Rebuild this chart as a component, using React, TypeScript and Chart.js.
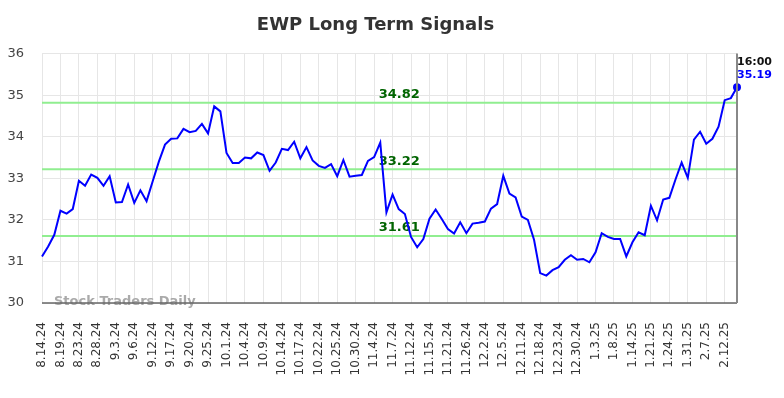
import { useEffect, useRef } from "react";
import { Chart, registerables } from "chart.js";

Chart.register(...registerables);

const chartTitle = "EWP Long Term Signals";

const dates = [
  "8.14.24", "8.15.24", "8.16.24",
  "8.19.24", "8.20.24", "8.21.24",
  "8.23.24", "8.26.24", "8.27.24",
  "8.28.24", "8.29.24", "8.30.24",
  "9.3.24", "9.4.24", "9.5.24",
  "9.6.24", "9.9.24", "9.10.24",
  "9.12.24", "9.13.24", "9.16.24",
  "9.17.24", "9.18.24", "9.19.24",
  "9.20.24", "9.23.24", "9.24.24",
  "9.25.24", "9.26.24", "9.27.24",
  "10.1.24", "10.2.24", "10.3.24",
  "10.4.24", "10.7.24", "10.8.24",
  "10.9.24", "10.10.24", "10.11.24",
  "10.14.24", "10.15.24", "10.16.24",
  "10.17.24", "10.18.24", "10.21.24",
  "10.22.24", "10.23.24", "10.24.24",
  "10.25.24", "10.28.24", "10.29.24",
  "10.30.24", "10.31.24", "11.1.24",
  "11.4.24", "11.5.24", "11.6.24",
  "11.7.24", "11.8.24", "11.11.24",
  "11.12.24", "11.13.24", "11.14.24",
  "11.15.24", "11.18.24", "11.19.24",
  "11.21.24", "11.22.24", "11.25.24",
  "11.26.24", "11.27.24", "11.29.24",
  "12.2.24", "12.3.24", "12.4.24",
  "12.5.24", "12.6.24", "12.9.24",
  "12.11.24", "12.12.24", "12.16.24",
  "12.18.24", "12.19.24", "12.20.24",
  "12.23.24", "12.24.24", "12.27.24",
  "12.30.24", "12.31.24", "1.2.25",
  "1.3.25", "1.6.25", "1.7.25",
  "1.8.25", "1.10.25", "1.13.25",
  "1.14.25", "1.15.25", "1.17.25",
  "1.21.25", "1.22.25", "1.23.25",
  "1.24.25", "1.27.25", "1.29.25",
  "1.31.25", "2.3.25", "2.5.25",
  "2.7.25", "2.10.25", "2.11.25",
  "2.12.25", "2.13.25", "2.14.25",
];

const closes = [
  31.12, 31.36, 31.64, 32.22, 32.15, 32.26, 32.94, 32.82, 33.09, 33.01,
  32.82, 33.05, 32.42, 32.43, 32.85, 32.41, 32.71, 32.45, 32.93, 33.40,
  33.81, 33.95, 33.96, 34.19, 34.11, 34.14, 34.31, 34.08, 34.73, 34.61,
  33.61, 33.37, 33.37, 33.50, 33.48, 33.62, 33.56, 33.18, 33.38, 33.71,
  33.68, 33.88, 33.48, 33.75, 33.43, 33.30, 33.25, 33.34, 33.05, 33.44,
  33.04, 33.06, 33.08, 33.42, 33.51, 33.86, 32.18, 32.61, 32.26, 32.14,
  31.59, 31.34, 31.54, 32.03, 32.25, 32.02, 31.78, 31.67, 31.94, 31.68,
  31.91, 31.93, 31.96, 32.27, 32.38, 33.06, 32.63, 32.54, 32.08, 32.00,
  31.52, 30.72, 30.66, 30.79, 30.86, 31.04, 31.15, 31.04, 31.06, 30.98,
  31.22, 31.68, 31.59, 31.54, 31.54, 31.12, 31.46, 31.70, 31.63, 32.34,
  31.99, 32.49, 32.53, 32.97, 33.38, 33.01, 33.93, 34.12, 33.83, 33.95,
  34.24, 34.88, 34.93, 35.19,
];

const tickDates = [
  "8.14.24", "8.19.24", "8.23.24", "8.28.24", "9.3.24", "9.6.24", "9.12.24",
  "9.17.24", "9.20.24", "9.25.24", "10.1.24", "10.4.24", "10.9.24",
  "10.14.24", "10.17.24", "10.22.24", "10.25.24", "10.30.24", "11.4.24",
  "11.7.24", "11.12.24", "11.15.24", "11.21.24", "11.26.24", "12.2.24",
  "12.5.24", "12.11.24", "12.18.24", "12.23.24", "12.30.24", "1.3.25",
  "1.8.25", "1.14.25", "1.21.25", "1.24.25", "1.31.25", "2.7.25", "2.12.25",
];

const signalLevels = [34.82, 33.22, 31.61];
const yMin = 30;
const yMax = 36;
const lastTime = "16:00";
const watermark = "Stock Traders Daily";

const FONT = "'DejaVu Sans', sans-serif";

const overlayPlugin = {
  id: "overlay",
  afterLayout(chart: any) {
    if (chart.titleBlock) {
      chart.titleBlock.left = 14;
    }
  },
  beforeDatasetsDraw(chart: any) {
    const { ctx, chartArea: a, scales } = chart;
    const y = scales.y;
    ctx.save();
    ctx.strokeStyle = "#90ee90";
    ctx.lineWidth = 2;
    signalLevels.forEach((v) => {
      const py = y.getPixelForValue(v);
      ctx.beginPath();
      ctx.moveTo(a.left, py);
      ctx.lineTo(a.right, py);
      ctx.stroke();
    });
    ctx.fillStyle = "#006400";
    ctx.font = `bold 13px ${FONT}`;
    ctx.textAlign = "center";
    ctx.textBaseline = "middle";
    const lx = a.left + (a.right - a.left) * 0.514;
    signalLevels.forEach((v) => {
      const py = y.getPixelForValue(v);
      ctx.fillText(v.toFixed(2), lx, py - 8);
    });
    ctx.fillStyle = "#aaaaaa";
    ctx.font = `bold 13px ${FONT}`;
    ctx.textAlign = "left";
    ctx.textBaseline = "middle";
    ctx.fillText(watermark, a.left + 12, a.bottom - 1);
    ctx.restore();
  },
  afterDatasetsDraw(chart: any) {
    const { ctx, chartArea: a, scales } = chart;
    ctx.save();
    ctx.strokeStyle = "#666666";
    ctx.lineWidth = 1.5;
    ctx.beginPath();
    ctx.moveTo(a.left, a.bottom);
    ctx.lineTo(a.right, a.bottom);
    ctx.stroke();
    ctx.strokeStyle = "#888888";
    ctx.lineWidth = 2;
    ctx.beginPath();
    ctx.moveTo(a.right, a.top);
    ctx.lineTo(a.right, a.bottom);
    ctx.stroke();
    const last = closes.length - 1;
    const px = scales.x.getPixelForValue(last);
    ctx.font = `bold 11px ${FONT}`;
    ctx.textAlign = "left";
    ctx.textBaseline = "middle";
    ctx.fillStyle = "#111111";
    ctx.fillText(lastTime, px, a.top + 9);
    ctx.fillStyle = "#0000ff";
    ctx.fillText(closes[last].toFixed(2), px, a.top + 22);
    ctx.restore();
  },
};

export default function App() {
  const ref = useRef<HTMLCanvasElement | null>(null);
  useEffect(() => {
    document.body.style.margin = "0";
    if (!ref.current) return;
    const last = closes.length - 1;
    const chart = new Chart(ref.current, {
      type: "line",
      data: {
        labels: dates,
        datasets: [
          {
            data: closes,
            borderColor: "#0000ff",
            backgroundColor: "#0000ff",
            borderWidth: 2,
            tension: 0,
            pointRadius: (c: any) => (c.dataIndex === last ? 4 : 0),
            pointHoverRadius: 0,
            pointBackgroundColor: "#0000ff",
            pointBorderWidth: 0,
            clip: false,
          } as any,
        ],
      },
      options: {
        animation: false,
        responsive: false,
        maintainAspectRatio: false,
        layout: { padding: { left: 0, right: 47, top: 5, bottom: 0 } },
        plugins: {
          legend: { display: false },
          tooltip: { enabled: false },
          title: {
            display: true,
            text: chartTitle,
            color: "#333333",
            font: { family: FONT, size: 18, weight: "bold" },
            padding: { top: 10, bottom: 17 },
          },
        },
        scales: {
          x: {
            type: "category",
            afterBuildTicks: (scale: any) => {
              scale.ticks = scale.ticks.filter((t: any) => tickDates.includes(dates[t.value]));
            },
            afterFit: (scale: any) => {
              scale.height = 95;
            },
            grid: { color: "#e6e6e6", drawTicks: false, lineWidth: 1 },
            border: { display: false },
            ticks: {
              autoSkip: false,
              maxRotation: 90,
              minRotation: 90,
              padding: 19,
              color: "#333333",
              font: { family: FONT, size: 12 },
            },
          },
          y: {
            min: yMin,
            max: yMax,
            afterFit: (scale: any) => {
              scale.width = 42;
            },
            grid: { color: "#e6e6e6", drawTicks: false, lineWidth: 1 },
            border: { display: false },
            ticks: {
              stepSize: 1,
              padding: 18,
              color: "#444444",
              font: { family: FONT, size: 13 },
            },
          },
        },
      },
      plugins: [overlayPlugin],
    });
    return () => chart.destroy();
  }, []);
  return (
    <div style={{ width: 784, height: 398 }}>
      <canvas ref={ref} width={784} height={398} style={{ display: "block" }} />
    </div>
  );
}
